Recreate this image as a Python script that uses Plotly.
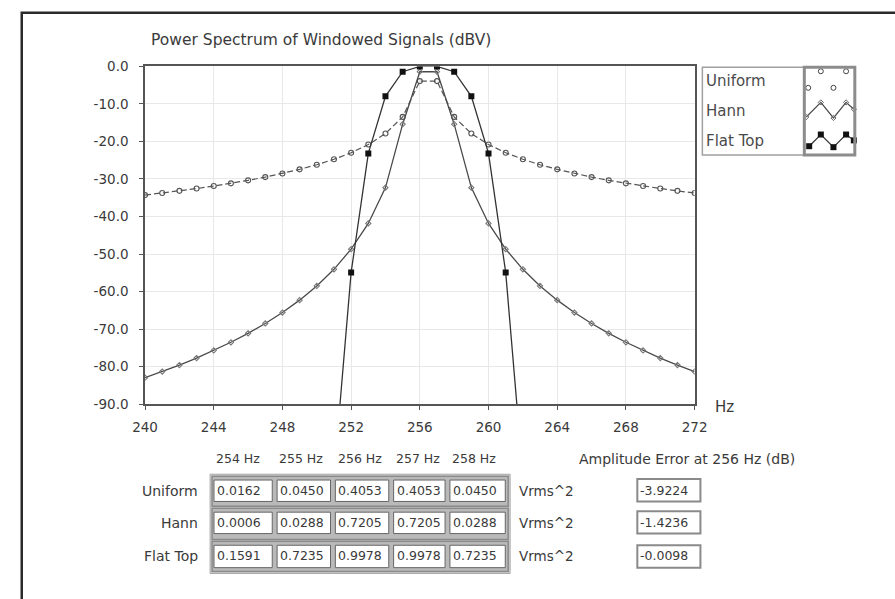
import plotly.graph_objects as go

# Spectrum bins (Hz)
freq_hz = [240, 241, 242, 243, 244, 245, 246, 247, 248, 249, 250,
           251, 252, 253, 254, 255, 256, 257, 258, 259, 260, 261,
           262, 263, 264, 265, 266, 267, 268, 269, 270, 271, 272]

# Power spectrum of a 256.5 Hz tone for each window (dBV)
uniform_db = [-34.29, -33.75, -33.17, -32.55, -31.88, -31.16, -30.37, -29.50,
              -28.53, -27.44, -26.20, -24.75, -23.01, -20.82, -17.90, -13.46,
              -3.92, -3.92, -13.46, -17.90, -20.82, -23.01, -24.75, -26.20,
              -27.44, -28.53, -29.50, -30.37, -31.16, -31.88, -32.55, -33.17,
              -33.75]
hann_db = [-82.96, -81.33, -79.58, -77.72, -75.70, -73.52, -71.14, -68.51,
           -65.59, -62.29, -58.51, -54.07, -48.70, -41.85, -32.31, -15.40,
           -1.42, -1.42, -15.40, -32.31, -41.85, -48.70, -54.07, -58.51,
           -62.29, -65.59, -68.51, -71.14, -73.52, -75.70, -77.72, -79.58,
           -81.33]
flat_top_db = [-108.0, -107.0, -106.0, -105.0, -104.0, -103.0, -102.0, -101.0,
               -100.0, -101.0, -103.0, -109.0, -54.91, -23.19, -7.98, -1.41,
               -0.01, -0.01, -1.41, -7.98, -23.19, -54.91, -109.0, -103.0,
               -101.0, -100.0, -101.0, -102.0, -103.0, -104.0, -105.0, -106.0,
               -107.0]

# Table of bin powers (Vrms^2) and amplitude error at 256 Hz (dB)
bin_labels = ["254 Hz", "255 Hz", "256 Hz", "257 Hz", "258 Hz"]
window_names = ["Uniform", "Hann", "Flat Top"]
uniform_power = [0.0162, 0.0450, 0.4053, 0.4053, 0.0450]
hann_power = [0.0006, 0.0288, 0.7205, 0.7205, 0.0288]
flat_top_power = [0.1591, 0.7235, 0.9978, 0.9978, 0.7235]
amplitude_error_db = [-3.9224, -1.4236, -0.0098]

y_ticks = [0, -10, -20, -30, -40, -50, -60, -70, -80, -90]
x_ticks = [240, 244, 248, 252, 256, 260, 264, 268, 272]

FW, FH = 895, 599
FONT = "DejaVu Sans"
INK = "#3a3a3a"
LINE = "#4a4a4a"


def px_x(x):
    return x / FW


def px_y(y):
    return 1 - y / FH


fig = go.Figure()


def rect(x0, y0, x1, y1, line_color="#888", line_width=1, fill=None):
    fig.add_shape(type="rect", xref="paper", yref="paper",
                  x0=px_x(x0), x1=px_x(x1), y0=px_y(y1), y1=px_y(y0),
                  line=dict(color=line_color, width=line_width),
                  fillcolor=fill, layer="above")


def text(x, y, s, size, anchor="left", color=INK):
    fig.add_annotation(xref="paper", yref="paper", x=px_x(x), y=px_y(y),
                       text=s, showarrow=False, xanchor=anchor, yanchor="middle",
                       font=dict(family=FONT, size=size, color=color))


# Spectrum traces
fig.add_trace(go.Scatter(
    x=freq_hz, y=uniform_db, mode="lines+markers", name="Uniform",
    line=dict(color="#555", width=1.2, dash="6px,3px"),
    marker=dict(symbol="circle-open", size=5, color="#555", line=dict(width=1.1)),
    xaxis="x", yaxis="y"))
fig.add_trace(go.Scatter(
    x=freq_hz, y=hann_db, mode="lines+markers", name="Hann",
    line=dict(color=LINE, width=1.3),
    marker=dict(symbol="diamond-open", size=4, color="#777", line=dict(width=1.1)),
    xaxis="x", yaxis="y"))
fig.add_trace(go.Scatter(
    x=freq_hz, y=flat_top_db, mode="lines+markers", name="Flat Top",
    line=dict(color="#333", width=1.3),
    marker=dict(symbol="square", size=6, color="#111"),
    xaxis="x", yaxis="y"))

# Legend swatches drawn in a small panel of their own
fig.add_trace(go.Scatter(
    x=[819, 832, 845, 858], y=[82, 65, 82, 65], mode="markers",
    marker=dict(symbol="circle-open", size=5, color="#444"),
    xaxis="x2", yaxis="y2", cliponaxis=False))
fig.add_trace(go.Scatter(
    x=[817, 832, 845, 858, 866], y=[112, 97, 113, 97, 104], mode="lines+markers",
    line=dict(color=LINE, width=1.2),
    marker=dict(symbol="diamond-open", size=4, color="#666"),
    xaxis="x2", yaxis="y2", cliponaxis=False))
fig.add_trace(go.Scatter(
    x=[820, 832, 845, 858, 866], y=[142, 130, 143, 130, 136], mode="lines+markers",
    line=dict(color="#333", width=1.2),
    marker=dict(symbol="square", size=6, color="#111"),
    xaxis="x2", yaxis="y2", cliponaxis=False))

axis_font = dict(family=FONT, size=13.5, color=INK)
fig.update_layout(
    width=FW, height=FH, autosize=False,
    margin=dict(l=0, r=0, t=0, b=0),
    paper_bgcolor="white", plot_bgcolor="white",
    showlegend=False,
    xaxis=dict(domain=[px_x(136), px_x(702)], range=[240, 272],
               tickvals=x_ticks, ticktext=[str(v) for v in x_ticks],
               showgrid=True, gridcolor="#e8e8e8", gridwidth=1,
               showline=True, linecolor="#555", linewidth=1.6, mirror=True,
               ticks="outside", ticklen=4, tickcolor="#555",
               tickfont=axis_font, ticklabelstandoff=6, zeroline=False),
    yaxis=dict(domain=[px_y(407), px_y(60)], range=[-90, 0],
               tickvals=y_ticks, ticktext=[f"{v:.1f}" for v in y_ticks],
               showgrid=True, gridcolor="#e8e8e8", gridwidth=1,
               showline=True, linecolor="#555", linewidth=1.6, mirror=True,
               ticks="outside", ticklen=4, tickcolor="#555",
               tickfont=axis_font, ticklabelstandoff=8, zeroline=False),
    xaxis2=dict(domain=[px_x(816), px_x(866)], range=[816, 866],
                visible=False, anchor="y2", fixedrange=True),
    yaxis2=dict(domain=[px_y(150), px_y(62)], range=[150, 62],
                visible=False, anchor="x2", fixedrange=True),
)

# Outer panel frame
rect(9, 5, 910, 620, line_color="#2a2a2a", line_width=2.5)

# Chart title and axis unit
text(140, 33, "Power Spectrum of Windowed Signals (dBV)", 15.5)
text(721, 410, "Hz", 15)

# Legend box
rect(710, 61, 867, 151, line_color="#a0a0a0", line_width=1.5)
rect(815, 61, 867, 151, line_color="#8c8c8c", line_width=3)
for name, y in zip(window_names, [75, 106, 137]):
    text(712, y, name, 15, color="#4a4a4a")

# Bin power table
cell_x = [(207, 267), (272, 327), (332, 387), (392, 445), (450, 507)]
band_y = [(481, 512), (514, 546), (548, 579)]
cell_y = [(485, 507), (518, 540), (552, 575)]
err_y = [(484, 507), (517, 540), (552, 575)]
row_mid = [496, 529, 563]

rect(203, 479, 512, 581, line_color="#a8a8a8", line_width=1, fill="#d6d6d6")
for (y0, y1) in band_y:
    rect(205, y0, 510, y1, line_color="#8a8a8a", line_width=1.5, fill="#b9b9b9")

for label, (x0, x1) in zip(bin_labels, cell_x):
    text(x0 + 25, 463, label, 12.5, anchor="center")

table_rows = [uniform_power, hann_power, flat_top_power]
for r, (name, values) in enumerate(zip(window_names, table_rows)):
    y0, y1 = cell_y[r]
    text(193, row_mid[r], name, 14, anchor="right")
    for (x0, x1), v in zip(cell_x, values):
        rect(x0, y0, x1, y1, line_color="#666", line_width=1, fill="white")
        text(x0 + 1, row_mid[r], f"{v:.4f}", 12.5)
    text(519, row_mid[r], "Vrms^2", 13.5)

# Amplitude error readouts
text(694, 463, "Amplitude Error at 256 Hz (dB)", 14, anchor="center")
for (y0, y1), v, ym in zip(err_y, amplitude_error_db, row_mid):
    rect(643, y0, 708, y1, line_color="#8a8a8a", line_width=2, fill="white")
    text(644, ym, f"{v:.4f}", 12.5)

fig.write_html("out.html")
